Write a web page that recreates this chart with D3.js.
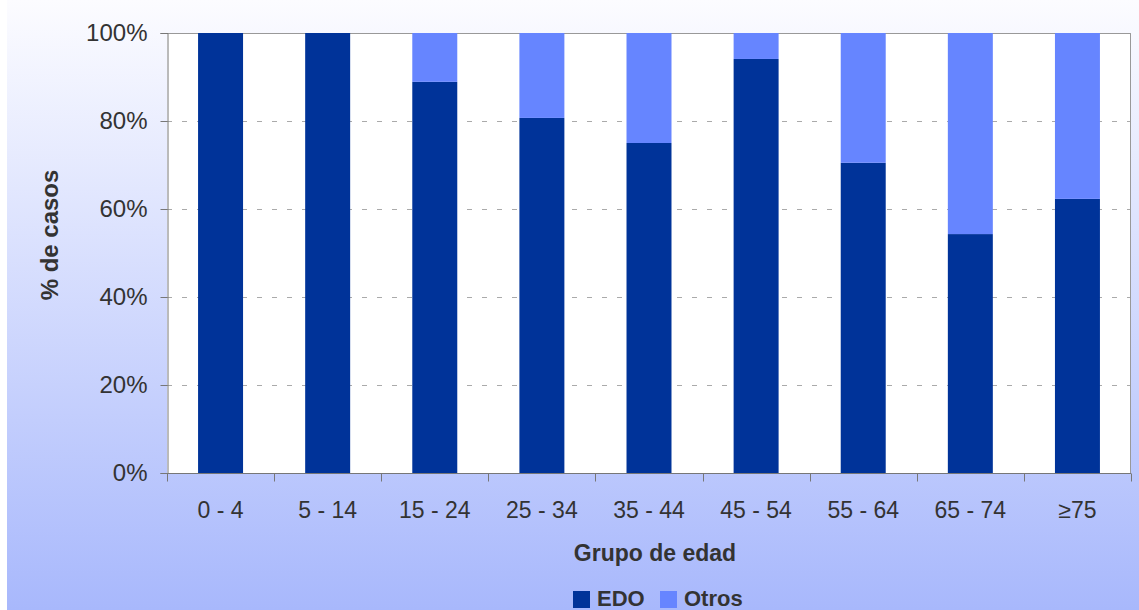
<!DOCTYPE html>
<html>
<head>
<meta charset="utf-8">
<script src="https://cdn.jsdelivr.net/npm/d3@7/dist/d3.min.js"></script>
<style>
  html, body { margin: 0; padding: 0; background: #ffffff; }
  svg { display: block; }
  text { font-family: "Liberation Sans", Arial, sans-serif; fill: #333333; }
</style>
</head>
<body>
<svg id="chart" width="1139" height="610"></svg>
<script>
// Age groups and share of cases (%) by origin
const categories = ["0 - 4", "5 - 14", "15 - 24", "25 - 34", "35 - 44", "45 - 54", "55 - 64", "65 - 74", "≥75"];
const edoValues  = [100, 100, 88.9, 80.7, 75.0, 94.1, 70.5, 54.3, 62.3];
const otrosValues = edoValues.map(v => 100 - v);
const seriesNames = ["EDO", "Otros"];
const yTicks = [0, 20, 40, 60, 80, 100];

const colors = { EDO: "#003399", Otros: "#6685ff" };

const svg = d3.select("#chart");
const W = 1139, H = 610;
const plot = { left: 167, right: 1131, top: 33, bottom: 473 };

// Background gradient panel
const defs = svg.append("defs");
const grad = defs.append("linearGradient").attr("id", "bg").attr("x1", 0).attr("y1", 0).attr("x2", 0).attr("y2", 1);
grad.append("stop").attr("offset", "0%").attr("stop-color", "#fcfcff");
grad.append("stop").attr("offset", "100%").attr("stop-color", "#a8b8fc");
svg.append("rect").attr("x", 7).attr("y", 0).attr("width", W - 7).attr("height", H).attr("fill", "url(#bg)");

// Plot area
svg.append("rect")
  .attr("x", plot.left).attr("y", plot.top)
  .attr("width", plot.right - plot.left).attr("height", plot.bottom - plot.top)
  .attr("fill", "#ffffff");

const x = d3.scaleBand().domain(categories).range([plot.left, plot.right]).paddingInner(0.58).paddingOuter(0.29);
const xOuter = d3.scaleBand().domain(categories).range([plot.left, plot.right]);
const y = d3.scaleLinear().domain([0, 100]).range([plot.bottom, plot.top]);

// Gridlines
svg.append("g").selectAll("line").data(yTicks.filter(t => t > 0)).join("line")
  .attr("x1", plot.left).attr("x2", plot.right)
  .attr("y1", d => y(d) + 0.5).attr("y2", d => y(d) + 0.5)
  .attr("stroke", "#aaaaaa").attr("stroke-width", 1).attr("stroke-dasharray", "5,10");

// Plot border (top and right)
svg.append("path")
  .attr("d", `M${plot.left},${plot.top + 0.5}H${plot.right - 0.5}V${plot.bottom}`)
  .attr("fill", "none").attr("stroke", "#999999").attr("stroke-width", 1);

// Stacked bars
const rows = categories.map((c, i) => ({ cat: c, EDO: edoValues[i], Otros: otrosValues[i] }));
const stacked = d3.stack().keys(seriesNames)(rows);
svg.append("g").selectAll("g").data(stacked).join("g")
  .attr("fill", d => colors[d.key])
  .selectAll("rect").data(d => d).join("rect")
  .attr("x", d => x(d.data.cat))
  .attr("width", x.bandwidth())
  .attr("y", d => y(d[1]))
  .attr("height", d => y(d[0]) - y(d[1]));

// Y axis
const yAxis = d3.axisLeft(y).tickValues(yTicks).tickFormat(d => d + "%").tickSize(7).tickPadding(13);
const gy = svg.append("g").attr("transform", `translate(${plot.left + 0.5},0)`).call(yAxis);
gy.select(".domain").attr("stroke", "#777777");
gy.selectAll(".tick line").attr("stroke", "#777777");
gy.selectAll(".tick text").attr("font-size", 24).attr("fill", "#333333")
  .attr("font-family", "Liberation Sans, Arial, sans-serif");

// X axis with ticks between groups
const gx = svg.append("g").attr("transform", `translate(0,${plot.bottom + 0.5})`);
gx.append("line").attr("x1", plot.left).attr("x2", plot.right).attr("stroke", "#777777");
const boundaries = categories.map(c => xOuter(c)).concat([plot.right]);
gx.selectAll("line.tk").data(boundaries).join("line").attr("class", "tk")
  .attr("x1", d => Math.round(d) + 0.5).attr("x2", d => Math.round(d) + 0.5)
  .attr("y1", 0).attr("y2", 8).attr("stroke", "#777777");
gx.selectAll("text").data(categories).join("text")
  .attr("x", d => xOuter(d) + xOuter.bandwidth() / 2)
  .attr("y", 44)
  .attr("text-anchor", "middle")
  .attr("font-size", 23)
  .text(d => d);

// Axis titles
svg.append("text")
  .attr("transform", `translate(58,${(plot.top + plot.bottom) / 2 - 18}) rotate(-90)`)
  .attr("text-anchor", "middle").attr("font-size", 24).attr("font-weight", "bold")
  .text("% de casos");
svg.append("text")
  .attr("x", 655).attr("y", 561)
  .attr("text-anchor", "middle").attr("font-size", 23).attr("font-weight", "bold")
  .text("Grupo de edad");

// Legend
const legend = svg.append("g").attr("transform", "translate(573,591)");
const legendX = [0, 87];
const li = legend.selectAll("g").data(seriesNames).join("g")
  .attr("transform", (d, i) => `translate(${legendX[i]},0)`);
li.append("rect").attr("width", 17).attr("height", 17).attr("fill", d => colors[d]);
li.append("text").attr("x", 24).attr("y", 15).attr("font-size", 22).attr("font-weight", "bold").text(d => d);
</script>
</body>
</html>
